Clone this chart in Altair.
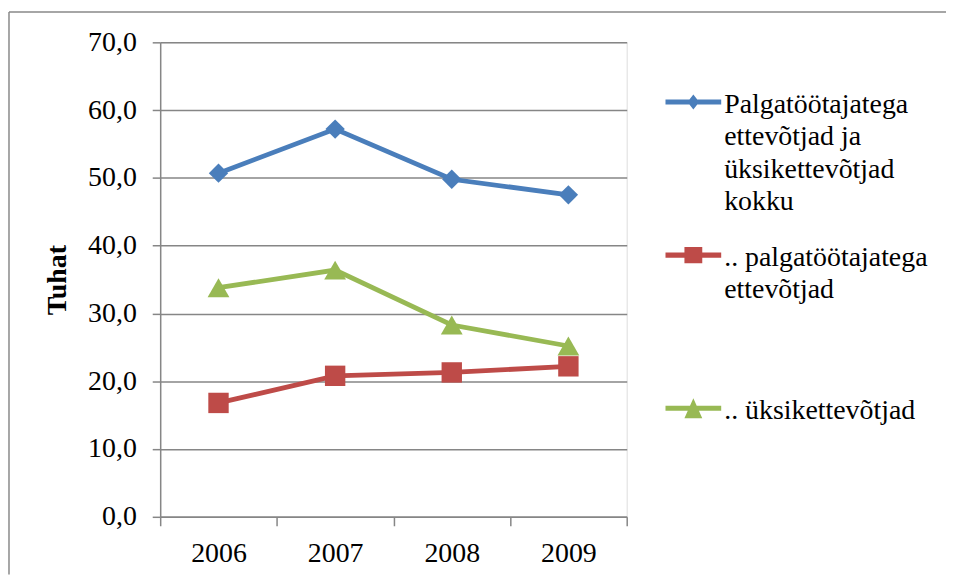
import altair as alt
import pandas as pd

years = ["2006", "2007", "2008", "2009"]
series = [
    "Palgatöötajatega ettevõtjad ja üksikettevõtjad kokku",
    ".. palgatöötajatega ettevõtjad",
    ".. üksikettevõtjad",
]
legend_lines = [
    ["Palgatöötajatega", "ettevõtjad ja", "üksikettevõtjad", "kokku"],
    [".. palgatöötajatega", "ettevõtjad"],
    [".. üksikettevõtjad"],
]
total = [50.7, 57.2, 49.8, 47.5]
employers = [16.8, 20.8, 21.3, 22.2]
sole = [33.8, 36.4, 28.3, 25.2]
colors = ["#4A7EBB", "#BE4B48", "#98B954"]
shapes = ["diamond", "square", "triangle-up"]
sizes = [380, 420, 480]

rows = []
for name, vals in zip(series, [total, employers, sole]):
    for y, v in zip(years, vals):
        rows.append({"year": y, "series": name, "value": v})
df = pd.DataFrame(rows)

FONT = "Liberation Serif"
GREY = "#868686"

# legend symbols: a line segment with the series marker (custom paths)
S = 0.39  # vertical shift so that the symbol sits beside the first label line
def bar():
    return f"M-1,{S-0.09:.2f}L1,{S-0.09:.2f}L1,{S+0.09:.2f}L-1,{S+0.09:.2f}Z"
legend_paths = [
    bar() + f"M0,{S-0.27:.2f}L0.21,{S:.2f}L0,{S+0.27:.2f}L-0.21,{S:.2f}Z",
    bar() + f"M-0.32,{S-0.29:.2f}L0.32,{S-0.29:.2f}L0.32,{S+0.29:.2f}L-0.32,{S+0.29:.2f}Z",
    bar() + f"M0,{S-0.36:.2f}L0.32,{S+0.36:.2f}L-0.32,{S+0.36:.2f}Z",
]

def arr(lines):
    padded = lines + [""] * (4 - len(lines))
    return "[" + ",".join("'" + s + "'" for s in padded) + "]"

label_expr = ""
for name, lines in zip(series[:-1], legend_lines[:-1]):
    label_expr += f"datum.label == '{name}' ? {arr(lines)} : "
label_expr += arr(legend_lines[-1])

x_enc = alt.X(
    "year:O",
    sort=years,
    scale=alt.Scale(type="band", paddingInner=0, paddingOuter=0),
    axis=alt.Axis(
        title=None, labelAngle=0, tickBand="extent", grid=False,
        labelFont=FONT, labelFontSize=28, labelColor="black",
        labelPadding=14, tickSize=9, tickColor=GREY, tickWidth=1.5,
        domainColor=GREY, domainWidth=1.5,
    ),
)
y_enc = alt.Y(
    "value:Q",
    scale=alt.Scale(domain=[0, 70], nice=False),
    axis=alt.Axis(
        values=[0, 10, 20, 30, 40, 50, 60, 70],
        labelExpr="replace(format(datum.value, '.1f'), '.', ',')",
        title="Tuhat", titleFont=FONT, titleFontSize=28, titleFontWeight="bold",
        titleColor="black", titlePadding=16,
        labelFont=FONT, labelFontSize=28, labelColor="black", labelPadding=16,
        tickSize=8, tickColor=GREY, tickWidth=1.5,
        domainColor=GREY, domainWidth=1.5,
        gridColor=GREY, gridWidth=1.5,
    ),
)

base = alt.Chart(df)

series_layers = []
for name, col, shp, sz in zip(series, colors, shapes, sizes):
    sub = base.transform_filter(alt.datum.series == name)
    series_layers.append(
        sub.mark_line(strokeWidth=4.8, color=col).encode(x=x_enc, y=y_enc)
    )
for name, col, shp, sz in zip(series, colors, shapes, sizes):
    sub = base.transform_filter(alt.datum.series == name)
    series_layers.append(
        sub.mark_point(shape=shp, size=sz, filled=True, opacity=1, color=col)
        .encode(x=x_enc, y=y_enc)
    )

leg = alt.Legend(
    title=None, orient="none", legendX=508, legendY=21, padding=0,
    labelFont=FONT, labelFontSize=28, labelColor="black", labelLimit=600,
    labelBaseline="top", labelExpr=label_expr, labelOffset=3,
    symbolSize=3136, symbolStrokeWidth=0, rowPadding=0,
)
legend_layer = base.transform_filter("false").mark_point(filled=True, opacity=1).encode(
    x=x_enc, y=y_enc,
    color=alt.Color("series:N", scale=alt.Scale(domain=series, range=colors), legend=leg),
    shape=alt.Shape("series:N", scale=alt.Scale(domain=series, range=legend_paths), legend=leg),
)

frame_df = pd.DataFrame({"f": [0]})
frame_left = alt.Chart(frame_df).mark_rule(stroke="#898989", strokeWidth=1.5).encode(
    x=alt.value(-152), y=alt.value(-30.5), y2=alt.value(535)
)
frame_top = alt.Chart(frame_df).mark_rule(stroke="#898989", strokeWidth=1.5).encode(
    x=alt.value(-152), x2=alt.value(790), y=alt.value(-30.5)
)

chart = alt.layer(frame_left, frame_top, *series_layers, legend_layer).properties(
    width=469, height=477,
    padding={"left": 0, "top": 1, "right": 0, "bottom": 0},
).configure_view(strokeWidth=0).configure_legend(
    labelFont=FONT, labelFontSize=28, labelColor="black"
).configure(
    background="white",
    font=FONT,
    style={"guide-label": {"lineHeight": 32.5, "font": FONT, "fontSize": 28, "fill": "black"}},
)

chart.save("out.html", embed_options={"renderer": "svg", "actions": False})
